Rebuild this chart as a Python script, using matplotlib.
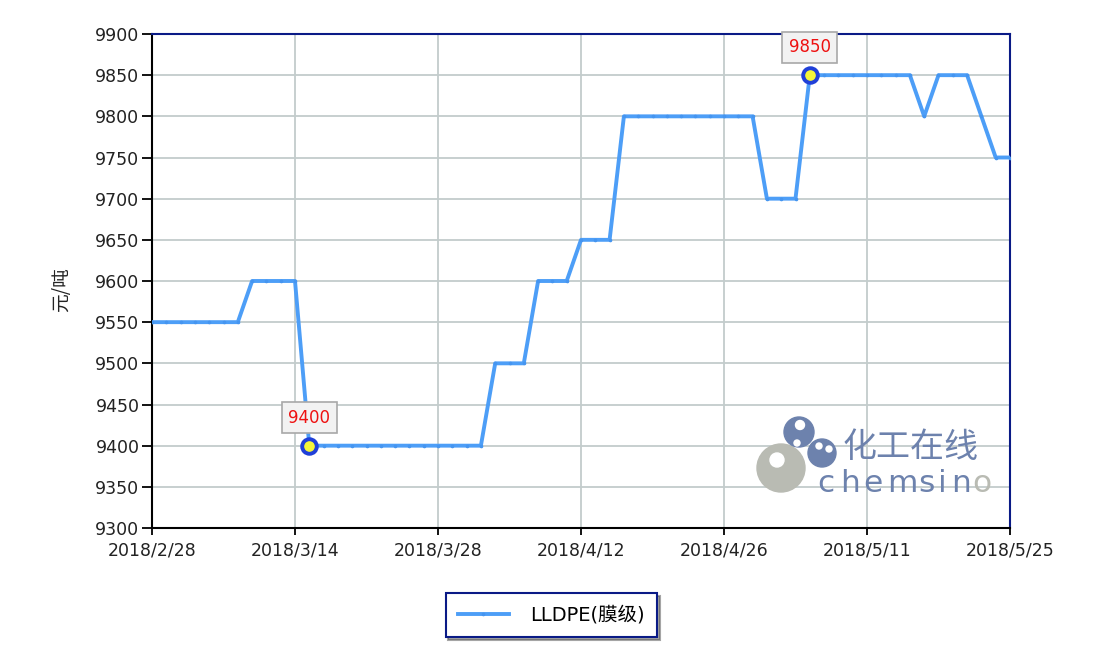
import matplotlib
matplotlib.use("Agg")
import matplotlib.pyplot as plt
from matplotlib.patches import Circle

# ---- data ----
values = [9550, 9550, 9550, 9550, 9550, 9550, 9550,
          9600, 9600, 9600, 9600,
          9400, 9400, 9400, 9400, 9400, 9400, 9400, 9400, 9400, 9400, 9400, 9400, 9400,
          9500, 9500, 9500,
          9600, 9600, 9600,
          9650, 9650, 9650,
          9800, 9800, 9800, 9800, 9800, 9800, 9800, 9800, 9800, 9800,
          9700, 9700, 9700,
          9850, 9850, 9850, 9850, 9850, 9850, 9850, 9850,
          9800,
          9850, 9850, 9850,
          9800,
          9750, 9750]
tick_labels = ["2018/2/28", "2018/3/14", "2018/3/28", "2018/4/12",
               "2018/4/26", "2018/5/11", "2018/5/25"]
tick_every = 10
highlight_idx = [11, 46]
series_name = "LLDPE(膜级)"
y_label = "元/吨"
y_ticks = [9300, 9350, 9400, 9450, 9500, 9550, 9600, 9650, 9700, 9750, 9800, 9850, 9900]

W, H = 1102, 661
fig = plt.figure(figsize=(W / 100, H / 100), dpi=100)
fig.patch.set_facecolor("white")
ax = fig.add_axes([152 / W, 1 - 528 / H, (1010 - 152) / W, (528 - 34) / H])

x = list(range(len(values)))
line_color = "#4D9EF7"
ax.plot(x, values, color=line_color, lw=2.8, marker="o", ms=1.6,
        mfc="#4595F0", mec="#4595F0", label=series_name, zorder=3)

for i in highlight_idx:
    ax.plot([x[i]], [values[i]], marker="o", ms=10.5, mfc="#F5F53A",
            mec="#2040D8", mew=2.8, zorder=5, linestyle="none")
    ax.annotate(str(values[i]), xy=(x[i], values[i]), xytext=(0, 28),
                textcoords="offset pixels", ha="center", va="center",
                color="#EE1111", fontsize=12, family="DejaVu Sans",
                bbox=dict(boxstyle="square,pad=0.38", fc="#F2F2F2",
                          ec="#A8A8A8", lw=1.2), zorder=6)

ax.set_xlim(0, len(values) - 1)
ax.set_ylim(9300, 9900)
ax.set_yticks(y_ticks)
ax.set_xticks(list(range(0, len(values), tick_every)))
ax.set_xticklabels(tick_labels)
ax.grid(True, color="#C3CCCC", lw=1.3)
ax.set_axisbelow(True)
ax.tick_params(axis="y", direction="out", length=7, width=1.3, labelsize=12.5,
               pad=2, colors="black")
ax.tick_params(axis="x", direction="out", length=5, width=1.3, labelsize=12.5,
               pad=5, colors="black")
for lbl in ax.get_xticklabels() + ax.get_yticklabels():
    lbl.set_color("#222222")

for s in ["left", "bottom"]:
    ax.spines[s].set_color("black")
    ax.spines[s].set_linewidth(1.5)
for s in ["top", "right"]:
    ax.spines[s].set_color("#0A1A86")
    ax.spines[s].set_linewidth(1.5)

fig.text(62 / W, 1 - 290 / H, y_label, rotation=90, ha="center", va="center",
         fontsize=13.5, family=["Noto Sans CJK SC", "DejaVu Sans"], color="#222222")

# legend
leg = fig.legend(loc="center", bbox_to_anchor=(551.5 / W, 1 - 615 / H),
                 prop={"family": ["DejaVu Sans", "Noto Sans CJK SC"], "size": 14},
                 frameon=True, fancybox=False, shadow=True, handlelength=2.6,
                 borderpad=0.65, handletextpad=1.1, borderaxespad=0)
leg.get_frame().set_edgecolor("#0A1A86")
leg.get_frame().set_linewidth(1.5)

# watermark logo
lax = fig.add_axes([750 / W, 1 - 500 / H, 250 / W, 90 / H])
lax.set_xlim(750, 1000)
lax.set_ylim(500, 410)
lax.set_aspect("equal")
lax.axis("off")
gray = "#B9BBB3"
blue = "#6D82AD"
lax.add_patch(Circle((781, 468), 24, color=gray, zorder=1))
lax.add_patch(Circle((777, 460), 7, color="white", zorder=2))
lax.add_patch(Circle((799, 432), 15, color=blue, zorder=1))
lax.add_patch(Circle((800, 425), 4.5, color="white", zorder=2))
lax.add_patch(Circle((797, 443), 3, color="white", zorder=2))
lax.add_patch(Circle((822, 453), 14, color=blue, zorder=1))
lax.add_patch(Circle((819, 446), 3, color="white", zorder=2))
lax.add_patch(Circle((829, 449), 3, color="white", zorder=2))
lax.text(843, 448, "化工在线", ha="left", va="center", fontsize=24.5,
         family=["Noto Sans CJK SC"], color=blue)
logo_letters = ["c", "h", "e", "m", "s", "i", "n", "o"]
logo_x = [817, 840, 863, 887, 918, 938, 951, 972]
for ch, lx in zip(logo_letters, logo_x):
    lax.text(lx, 492, ch, ha="left", va="baseline", fontsize=22.5,
             family="DejaVu Sans", color=gray if ch == "o" else blue)

fig.savefig("out.png", dpi=100, facecolor="white")
